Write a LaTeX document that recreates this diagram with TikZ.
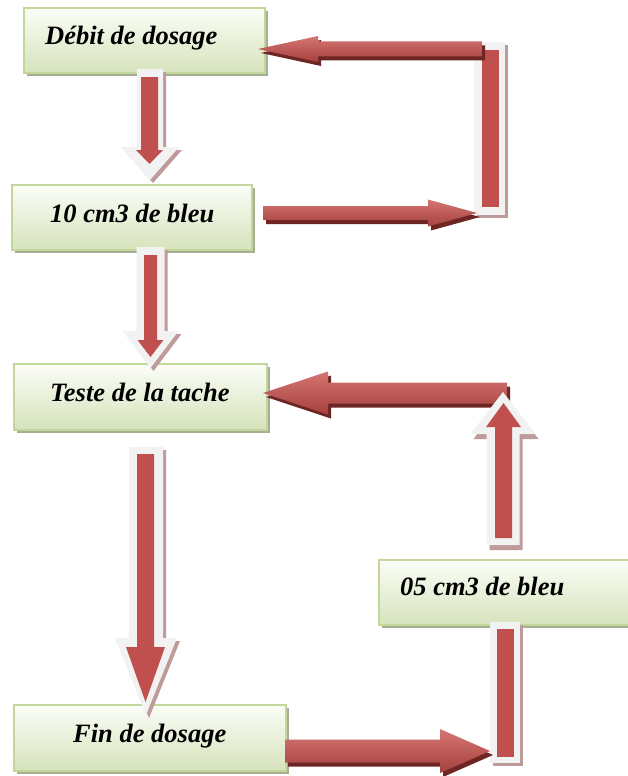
\documentclass[tikz,border=0pt]{standalone}
\usepackage{fontspec}
\setmainfont{Liberation Serif}
\usetikzlibrary{shadows}
\definecolor{boxborder}{HTML}{C3D69B}
\definecolor{boxtop}{HTML}{FBFDF7}
\definecolor{boxbot}{HTML}{D6E3BB}
\definecolor{boxshadow}{HTML}{A6AE93}
\definecolor{arrred}{HTML}{C0504D}
\definecolor{arrlight}{HTML}{D57673}
\definecolor{arrdark}{HTML}{A5403D}
\definecolor{arrshadow}{HTML}{6E2624}
\definecolor{outl}{HTML}{F2F2F2}
\definecolor{pinkshadow}{HTML}{BE9A9A}
% vertical arrow polygon: cx, shaft end y, head base y, tip y, shaft half, head half
\newcommand\vpoly[6]{({#1-#5},{#2}) -- ({#1+#5},{#2}) -- ({#1+#5},{#3}) -- ({#1+#6},{#3}) -- ({#1},{#4}) -- ({#1-#6},{#3}) -- ({#1-#5},{#3}) -- cycle}
% horizontal arrow polygon: tail x, head base x, tip x, cy, shaft half, head half
\newcommand\hpoly[6]{({#1},{#4-#5}) -- ({#2},{#4-#5}) -- ({#2},{#4-#6}) -- ({#3},{#4}) -- ({#2},{#4+#6}) -- ({#2},{#4+#5}) -- ({#1},{#4+#5}) -- cycle}
\tikzset{
  box/.style={draw=boxborder, line width=1.3pt, top color=boxtop, bottom color=boxbot,
    inner sep=0pt, general shadow={fill=boxshadow, shadow xshift=3pt, shadow yshift=-3pt}},
  lbl/.style={anchor=base west, inner sep=0pt, font=\fontsize{26.5}{30}\selectfont\bfseries\itshape},
  hshade/.style={top color=arrlight, middle color=arrred, bottom color=arrdark},
}
\begin{document}
\begin{tikzpicture}[x=1pt,y=-1pt]
\clip (0,0) rectangle (628,776);
\fill[white] (0,0) rectangle (628,776);
% boxes
\node[box, minimum width=241pt, minimum height=65pt] (b1) at (144.5,40.5) {};
\node[box, minimum width=240pt, minimum height=65pt] (b2) at (132,217.5) {};
\node[box, minimum width=253pt, minimum height=66pt] (b3) at (140.5,397) {};
\node[box, minimum width=261pt, minimum height=65pt] (b4) at (509.5,592.5) {};
\node[box, minimum width=272pt, minimum height=66pt] (b5) at (150,738) {};
% labels
\node[lbl] (t1) at (45,45) {Débit de dosage};
\node[lbl] (t2) at (50,222) {10 cm3 de bleu};
\node[lbl] (t3) at (50,401) {Teste de la tache};
\node[lbl] (t4) at (400,595) {05 cm3 de bleu};
\node[lbl] (t5) at (73,742) {Fin de dosage};
% vertical bars (outlined)
\fill[pinkshadow] (477,45) rectangle (508,218);
\fill[outl] (474,42) rectangle (505,215);
\fill[arrred] (482,50) rectangle (499,207);
\fill[pinkshadow] (493,625) rectangle (523,766);
\fill[outl] (490,622) rectangle (520,763);
\fill[arrred] (497,629) rectangle (514,757);
% horizontal arrows
\fill[arrshadow, shift={(3,4)}] \hpoly{482}{318}{258}{49}{7.5}{13};
\shade[hshade] \hpoly{482}{318}{258}{49}{7.5}{13};
\fill[arrshadow, shift={(3,4)}] \hpoly{263}{428}{477}{213}{7}{13.5};
\shade[hshade] \hpoly{263}{428}{477}{213}{7}{13.5};
\fill[arrshadow, shift={(3,4)}] \hpoly{507}{328}{263}{393}{10.5}{21.5};
\shade[hshade] \hpoly{507}{328}{263}{393}{10.5}{21.5};
\fill[arrshadow, shift={(3,4)}] \hpoly{285}{440}{490}{751}{11.5}{22};
\shade[hshade] \hpoly{285}{440}{490}{751}{11.5}{22};
% vertical outlined arrows
\fill[pinkshadow, shift={(3,3)}] \vpoly{150}{69}{147}{180}{13}{29};
\fill[outl] \vpoly{150}{69}{147}{180}{13}{29};
\fill[arrred] \vpoly{149.5}{77}{150}{164}{8.5}{13.5};
\fill[pinkshadow, shift={(3,3)}] \vpoly{150.5}{247}{331}{368}{14}{28};
\fill[outl] \vpoly{150.5}{247}{331}{368}{14}{28};
\fill[arrred] \vpoly{150.5}{255}{340}{357}{6.5}{13};
\fill[pinkshadow, shift={(3,3)}] \vpoly{146}{447}{638}{715}{17}{31};
\fill[outl] \vpoly{146}{447}{638}{715}{17}{31};
\fill[arrred] \vpoly{145.5}{454}{647}{702}{8.5}{19.5};
\fill[pinkshadow, shift={(3,5)}] \vpoly{503}{545}{434}{392}{16.5}{32.5};
\fill[outl] \vpoly{503}{545}{434}{392}{16.5}{32.5};
\fill[arrred] \vpoly{503.5}{538}{427}{403}{8.5}{17.5};
\end{tikzpicture}
\end{document}
